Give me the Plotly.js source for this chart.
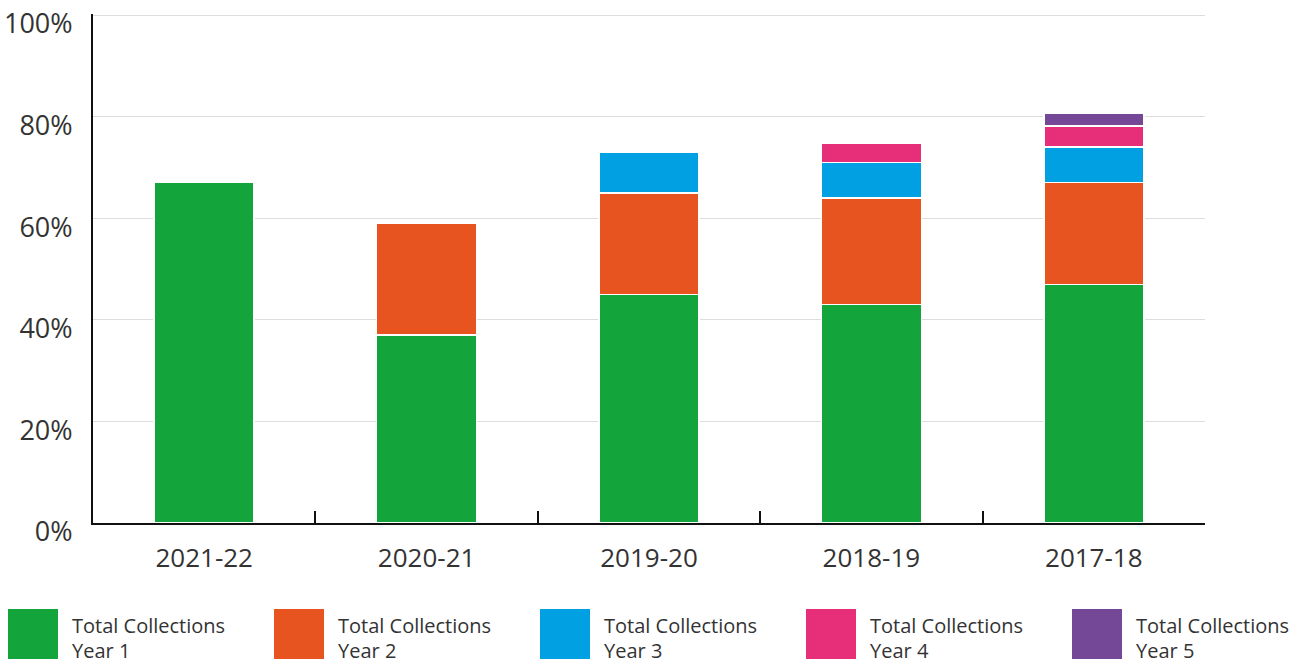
<!DOCTYPE html>
<html>
<head>
<meta charset="utf-8">
<script src="https://cdn.plot.ly/plotly-3.0.1.min.js"></script>
<style>html,body{margin:0;padding:0;background:#fff;}#chart{width:1299px;height:664px;}</style>
</head>
<body>
<div id="chart"></div>
<script>
// ---- data ----
const categories = ["2021-22", "2020-21", "2019-20", "2018-19", "2017-18"];
const year1 = [67, 37, 45, 43, 47];
const year2 = [null, 22, 20, 21, 20];
const year3 = [null, null, 8, 7, 7];
const year4 = [null, null, null, 3.7, 4.2];
const year5 = [null, null, null, null, 2.5];
const seriesLabels = ["Total Collections<br>Year 1", "Total Collections<br>Year 2", "Total Collections<br>Year 3", "Total Collections<br>Year 4", "Total Collections<br>Year 5"];
const yTickValues = [0, 20, 40, 60, 80, 100];
const yTickLabels = ["0%", "20%", "40%", "60%", "80%", "100%"];

// ---- styling ----
const colors = ["#14A43C", "#E85420", "#00A0E3", "#E72E78", "#744896"];
const seriesValues = [year1, year2, year3, year4, year5];

const traces = seriesValues.map((vals, i) => ({
  type: "bar",
  x: categories,
  y: vals,
  name: seriesLabels[i].replace("<br>", " "),
  marker: {color: colors[i], line: {color: "#ffffff", width: 1.5}},
  hoverinfo: "x+y+name",
  showlegend: false
}));

// Custom legend (large swatches with two-line labels)
const W = 1299, H = 664;
const mL = 93, mR = 94, mT = 14, mB = 141;
const pw = W - mL - mR, ph = H - mT - mB;
const px = p => (p - mL) / pw;
const py = p => (H - mB - p) / ph;
const shapes = [];
const annotations = [];
const legendFont = {family: "Open Sans, Noto Sans, sans-serif", size: 20, color: "#333333"};
seriesLabels.forEach((lab, i) => {
  const x0 = 8 + i * 266;
  shapes.push({type: "rect", xref: "paper", yref: "paper",
    x0: px(x0), x1: px(x0 + 50), y0: py(659), y1: py(609),
    fillcolor: colors[i], line: {width: 0}});
  const lines = lab.split("<br>");
  lines.forEach((ln, j) => {
    annotations.push({xref: "paper", yref: "paper", x: px(x0 + 63), y: py(625 + j * 25),
      xanchor: "left", yanchor: "middle", align: "left", showarrow: false, borderpad: 0,
      text: ln, font: legendFont});
  });
});

const layout = {
  width: W, height: H,
  margin: {l: mL, r: mR, t: mT, b: mB, pad: 0},
  paper_bgcolor: "#ffffff",
  plot_bgcolor: "#ffffff",
  barmode: "stack",
  bargap: 0.55,
  showlegend: false,
  font: {family: "Open Sans, Noto Sans, sans-serif", color: "#333333"},
  xaxis: {
    type: "category",
    showline: true, linecolor: "#111111", linewidth: 2,
    ticks: "inside", tickson: "boundaries", ticklen: 12, tickwidth: 1.5, tickcolor: "#111111",
    tickfont: {size: 26, color: "#333333"},
    ticklabelstandoff: 11,
    showgrid: false, zeroline: false, fixedrange: true
  },
  yaxis: {
    range: [0, 100.2],
    tickvals: yTickValues, ticktext: yTickLabels,
    tickfont: {size: 27, color: "#333333"},
    ticks: "", ticklabelstandoff: 13, ticklabelshift: 9,
    ticklabeloverflow: "allow",
    showline: true, linecolor: "#111111", linewidth: 2,
    showgrid: true, gridcolor: "#dddddd", gridwidth: 1,
    zeroline: false, fixedrange: true
  },
  shapes: shapes,
  annotations: annotations
};

Plotly.newPlot("chart", traces, layout, {displayModeBar: false, responsive: false});
</script>
</body>
</html>
